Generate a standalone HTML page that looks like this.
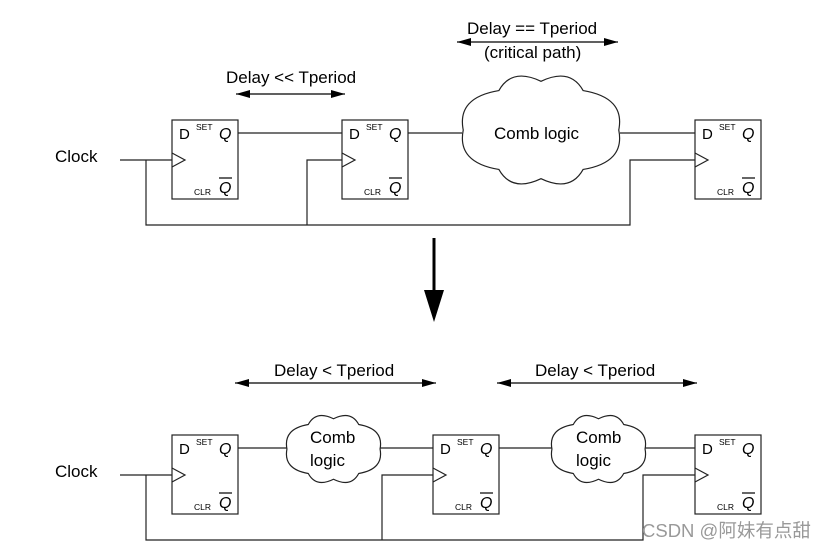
<!DOCTYPE html>
<html><head><meta charset="utf-8"><style>
html,body{margin:0;padding:0;background:#fff;}
svg{display:block;font-family:"Liberation Sans","Noto Sans CJK SC",sans-serif;}
</style></head><body>
<svg width="829" height="550" viewBox="0 0 829 550" xmlns="http://www.w3.org/2000/svg">
<defs>
<marker id="ah" viewBox="0 0 10 10" refX="10" refY="5" markerWidth="14" markerHeight="8" markerUnits="userSpaceOnUse" orient="auto-start-reverse" preserveAspectRatio="none"><path d="M0,0 L10,5 L0,10 Z" fill="#000"/></marker>
<g id="ff">
<rect x="0" y="0" width="66" height="79" fill="#fff" stroke="#222" stroke-width="1.2"/>
<text x="7" y="19" font-size="15">D</text>
<text x="24" y="10" font-size="8.5">SET</text>
<text x="47" y="19" font-size="16" font-style="italic">Q</text>
<text x="22" y="75" font-size="8.5">CLR</text>
<text x="47" y="73" font-size="16" font-style="italic">Q</text>
<line x1="47" y1="58" x2="60" y2="58" stroke="#000" stroke-width="1.2"/>
<path d="M0,33 L13,40 L0,47" fill="none" stroke="#222" stroke-width="1.2"/>
</g>
<path id="cl" d="M2,50 Q-2,22 24,16 Q32,-4 50,8 Q68,-4 76,16 Q102,22 98,50 Q102,78 76,84 Q68,104 50,92 Q32,104 24,84 Q-2,78 2,50 Z" fill="#fff" stroke="#222" stroke-width="1.2" vector-effect="non-scaling-stroke"/>
</defs>
<g stroke="#222" stroke-width="1.2" fill="none">
<path d="M120,160 H172 M146,160 V225 H630 V160 H695 M307,225 V160 H342 M238,133 H342 M408,133 H462 M620,133 H695"/>
<path d="M120,475 H172 M146,475 V540 H643 V475 H695 M382,540 V475 H433 M237,448 H287 M380,448 H433 M498,448 H552 M645,448 H695"/>
</g>
<use href="#ff" x="172" y="120"/>
<use href="#ff" x="342" y="120"/>
<use href="#ff" x="695" y="120"/>
<use href="#ff" x="172" y="435"/>
<use href="#ff" x="433" y="435"/>
<use href="#ff" x="695" y="435"/>
<use href="#cl" transform="translate(460,72) scale(1.62,1.16)"/>
<use href="#cl" transform="translate(285,413) scale(0.97,0.72)"/>
<use href="#cl" transform="translate(550,413) scale(0.97,0.72)"/>
<g stroke="#000" stroke-width="1.2" marker-start="url(#ah)" marker-end="url(#ah)">
<line x1="236" y1="94" x2="345" y2="94"/>
<line x1="457" y1="42" x2="618" y2="42"/>
<line x1="235" y1="383" x2="436" y2="383"/>
<line x1="497" y1="383" x2="697" y2="383"/>
</g>
<line x1="434" y1="238" x2="434" y2="292" stroke="#000" stroke-width="3"/>
<path d="M424,290 L444,290 L434,322 Z" fill="#000"/>
<g font-size="17" fill="#000">
<text x="55" y="162">Clock</text>
<text x="55" y="477">Clock</text>
<text x="226" y="83">Delay &lt;&lt; Tperiod</text>
<text x="467" y="34">Delay == Tperiod</text>
<text x="484" y="58">(critical path)</text>
<text x="494" y="139">Comb logic</text>
<text x="274" y="376">Delay &lt; Tperiod</text>
<text x="535" y="376">Delay &lt; Tperiod</text>
<text x="310" y="443">Comb</text>
<text x="310" y="466">logic</text>
<text x="576" y="443">Comb</text>
<text x="576" y="466">logic</text>
</g>
<text x="642" y="537" font-size="18.5" fill="#999">CSDN @阿妹有点甜</text>
</svg>
</body></html>
